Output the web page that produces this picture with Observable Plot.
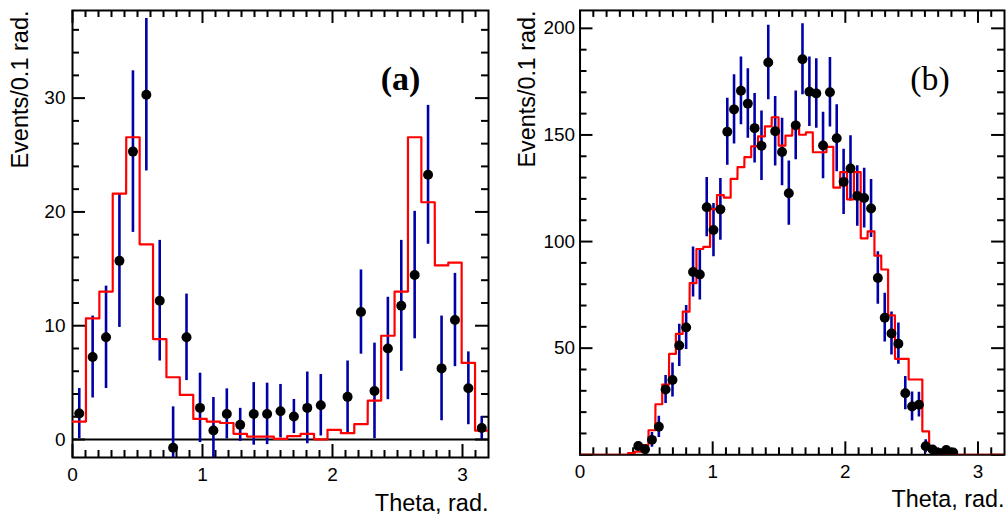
<!DOCTYPE html>
<html>
<head>
<meta charset="utf-8">
<script src="https://cdn.jsdelivr.net/npm/d3@7"></script>
<script src="https://cdn.jsdelivr.net/npm/@observablehq/plot@0.6"></script>
<style>
  html, body { margin: 0; padding: 0; background: #fff; overflow: hidden; }
  #wrap { position: relative; width: 1006px; height: 514px; overflow: hidden; }
  #pa { position: absolute; left: 0; top: 0; }
  #pb { position: absolute; left: 503px; top: 0; }
</style>
</head>
<body>
<div id="wrap"><div id="pa"></div><div id="pb"></div></div>
<script>
// ---------- Panel (a) : 0.1 rad bins ----------
const thetaA = [0.052,0.155,0.258,0.361,0.465,0.568,0.671,0.774,0.877,0.981,1.084,1.187,1.290,1.394,1.497,1.600,1.703,1.806,1.910,2.013,2.116,2.219,2.323,2.426,2.529,2.632,2.735,2.839,2.942,3.045,3.148];
const modelA = [1.58,10.64,13.0,21.6,26.56,17.15,8.83,5.47,3.92,1.81,1.58,1.45,0.5,0.26,0.26,0.05,0.3,0.5,0.02,0.85,0.56,1.35,3.42,9.12,13.0,26.56,20.85,15.3,15.55,6.73,0.79];
const dataA  = [2.28,7.25,8.98,15.7,25.3,30.3,12.2,-0.73,8.98,2.78,0.79,2.25,1.29,2.25,2.25,2.49,2.02,2.78,3.01,null,3.75,11.2,4.27,8.0,11.75,14.45,23.26,6.25,10.5,4.5,1.02];
const errA   = [2.2,3.6,4.5,5.85,7.1,6.7,5.3,3.6,3.8,3.05,2.9,2.2,1.45,2.75,2.7,2.35,1.5,3.15,2.7,null,3.15,3.7,4.2,4.5,5.75,5.6,6.1,4.6,4.1,3.2,1.0];

// ---------- Panel (b) : half-width bins ----------
const thetaB = [0.026,0.077,0.129,0.181,0.232,0.284,0.335,0.387,0.439,0.490,0.542,0.594,0.645,0.697,0.748,0.800,0.852,0.903,0.955,1.006,1.058,1.110,1.161,1.213,1.265,1.316,1.368,1.419,1.471,1.523,1.574,1.626,1.677,1.729,1.781,1.832,1.884,1.935,1.987,2.039,2.090,2.142,2.194,2.245,2.297,2.348,2.400,2.452,2.503,2.555,2.606,2.658,2.710,2.761,2.813,2.865,2.916,2.968,3.019,3.071,3.123,3.174];
const modelB = [0,0,0,0,0,0,0,0.8,1.5,4.5,11.5,23.7,32.9,47.3,56.7,67.1,80.5,96.5,97.5,115.2,121.8,120.6,129.4,134.9,139.6,144.7,149.3,154.0,158.3,145.0,149.7,153.2,150.1,151.2,141.9,141.9,144.4,125.3,132.6,119.8,132.6,101.5,104.8,93.4,86.9,65.4,45.0,45.0,35.3,35.3,11.0,1.8,0.5,0,0,0,0,0,0,0,0,0];
const dataB  = [null,null,null,null,null,null,null,null,4.1,2.6,7.0,13.1,30.6,35.1,51.3,59.7,85.7,84.6,116.1,105.4,115.1,151.5,162.0,170.7,164.7,153.2,144.9,184.0,151.7,142.0,122.7,154.5,185.5,170.3,169.5,145.1,170.0,148.5,128.0,134.3,121.4,120.4,115.5,82.9,64.3,56.9,52.1,28.9,22.6,23.5,4.0,2.5,0.8,2.2,1.1,null,null,null,null,null,null,null];
const errB   = [null,null,null,null,null,null,null,null,2.0,1.6,3.5,5.0,6.6,8.0,9.9,10.3,11.7,12.0,13.9,12.5,14.5,15.7,16.2,15.9,16.3,16.3,16.3,17.5,16.3,15.8,15.1,16.1,16.7,16.3,16.3,15.6,16.3,15.7,15.3,15.3,14.2,14.0,13.6,12.3,11.4,10.1,9.7,7.8,6.8,5.8,3.0,1.5,0.8,1.2,0.8,null,null,null,null,null,null,null];

// ---------- axes ----------
const xRange = [0, 3.2];
const xTicks = [0, 1, 2, 3];
const yRangeA = [-1.58, 37.7];
const yTicksA = [0, 10, 20, 30];
const yRangeB = [0, 208.4];
const yTicksB = [50, 100, 150, 200];
const yTitle = "Events/0.1 rad.";
const xTitle = "Theta, rad.";

const H = 514, MT = 10, MB = 57;
const innerH = H - MT - MB;
const RED = "#ff0000", BLUE = "#0000a8";

function steps(centers, vals) {
  const w = centers[1] - centers[0];
  const pts = [];
  centers.forEach((c, i) => {
    pts.push({x: c - w / 2, y: vals[i]});
    pts.push({x: c + w / 2, y: vals[i]});
  });
  return pts;
}
function points(centers, vals, errs, ymin) {
  return centers.map((c, i) => ({x: c, y: vals[i], lo: Math.max(ymin, vals[i] - errs[i]), hi: vals[i] + errs[i]}))
    .filter(d => d.y != null);
}

function panel(o) {
  const innerW = o.width - o.ml - o.mr;
  const xMinor = d3.range(1, 32).map(k => k / 10).filter(v => Math.abs(v - Math.round(v)) > 1e-6);
  const yMinor = d3.range(Math.ceil(o.yDomain[0] / o.yStep) * o.yStep, o.yDomain[1], o.yStep)
    .filter(v => Math.abs(v % (o.yStep * 5)) > 1e-6);
  const yMajor = d3.range(0, o.yDomain[1], o.yStep * 5);
  const MAJ = 13, MIN = 7;
  const tick = {stroke: "black", strokeWidth: 2};
  return Plot.plot({
    width: o.width, height: H, marginTop: MT, marginBottom: MB, marginLeft: o.ml, marginRight: o.mr,
    x: {domain: xRange}, y: {domain: o.yDomain},
    style: {fontFamily: "'Liberation Sans', Arial, Helvetica, sans-serif", fontSize: "19px", color: "black", background: "white", overflow: "visible"},
    marks: [
      o.zero ? Plot.ruleY([0], {stroke: "black", strokeWidth: 2}) : null,
      Plot.frame({stroke: "black", strokeWidth: 2}),
      // ticks: bottom & top
      Plot.tickX(xTicks, {x: d => d, insetTop: innerH - MAJ, ...tick}),
      Plot.tickX(xMinor, {x: d => d, insetTop: innerH - MIN, ...tick}),
      Plot.tickX(xTicks, {x: d => d, insetBottom: innerH - MAJ, ...tick}),
      Plot.tickX(xMinor, {x: d => d, insetBottom: innerH - MIN, ...tick}),
      // ticks: left & right
      Plot.tickY(yMajor, {y: d => d, insetRight: innerW - MAJ, ...tick}),
      Plot.tickY(yMinor, {y: d => d, insetRight: innerW - MIN, ...tick}),
      Plot.tickY(yMajor, {y: d => d, insetLeft: innerW - MAJ, ...tick}),
      Plot.tickY(yMinor, {y: d => d, insetLeft: innerW - MIN, ...tick}),
      // data
      Plot.ruleX(o.pts, {x: "x", y1: "lo", y2: "hi", stroke: BLUE, strokeWidth: 2.6, clip: true}),
      Plot.line(o.step, {x: "x", y: "y", stroke: RED, strokeWidth: 2.2, clip: true}),
      Plot.dot(o.pts, {x: "x", y: "y", r: 5, fill: "black", stroke: "none", clip: true}),
      // axes labels
      Plot.axisX(xTicks, {tickSize: 0, tickPadding: 10, tickFormat: d => String(d), label: null}),
      Plot.axisY(o.yTicks, {tickSize: 0, tickPadding: o.ypad, tickFormat: d => String(d), label: null}),
      Plot.text([yTitle], {frameAnchor: "top-left", dx: o.ydx, rotate: -90, textAnchor: "end", lineAnchor: "bottom", fontSize: 23.5}),
      Plot.text([xTitle], {frameAnchor: "bottom-right", dy: 53, textAnchor: "end", lineAnchor: "bottom", fontSize: 23.5}),
      Plot.text([o.tag], {frameAnchor: "top-left", dx: o.tagX, dy: 69, textAnchor: "middle", lineAnchor: "middle",
        fontSize: 34, fontWeight: o.tagWeight, fontFamily: "'Liberation Serif', 'Times New Roman', serif"})
    ]
  });
}

document.getElementById("pa").append(panel({
  width: 503, ml: 72, mr: 15, yDomain: yRangeA, yTicks: yTicksA, yStep: 2, ypad: 7, ydx: -45, zero: true,
  pts: points(thetaA, dataA, errA, yRangeA[0]), step: steps(thetaA, modelA), tag: "(a)", tagX: 328, tagWeight: "bold"
}));
document.getElementById("pb").append(panel({
  width: 506, ml: 77, mr: 2, yDomain: yRangeB, yTicks: yTicksB, yStep: 10, ypad: 5, ydx: -45, zero: false,
  pts: points(thetaB, dataB, errB, yRangeB[0]), step: steps(thetaB, modelB), tag: "(b)", tagX: 352, tagWeight: "normal"
}));
</script>
</body>
</html>
